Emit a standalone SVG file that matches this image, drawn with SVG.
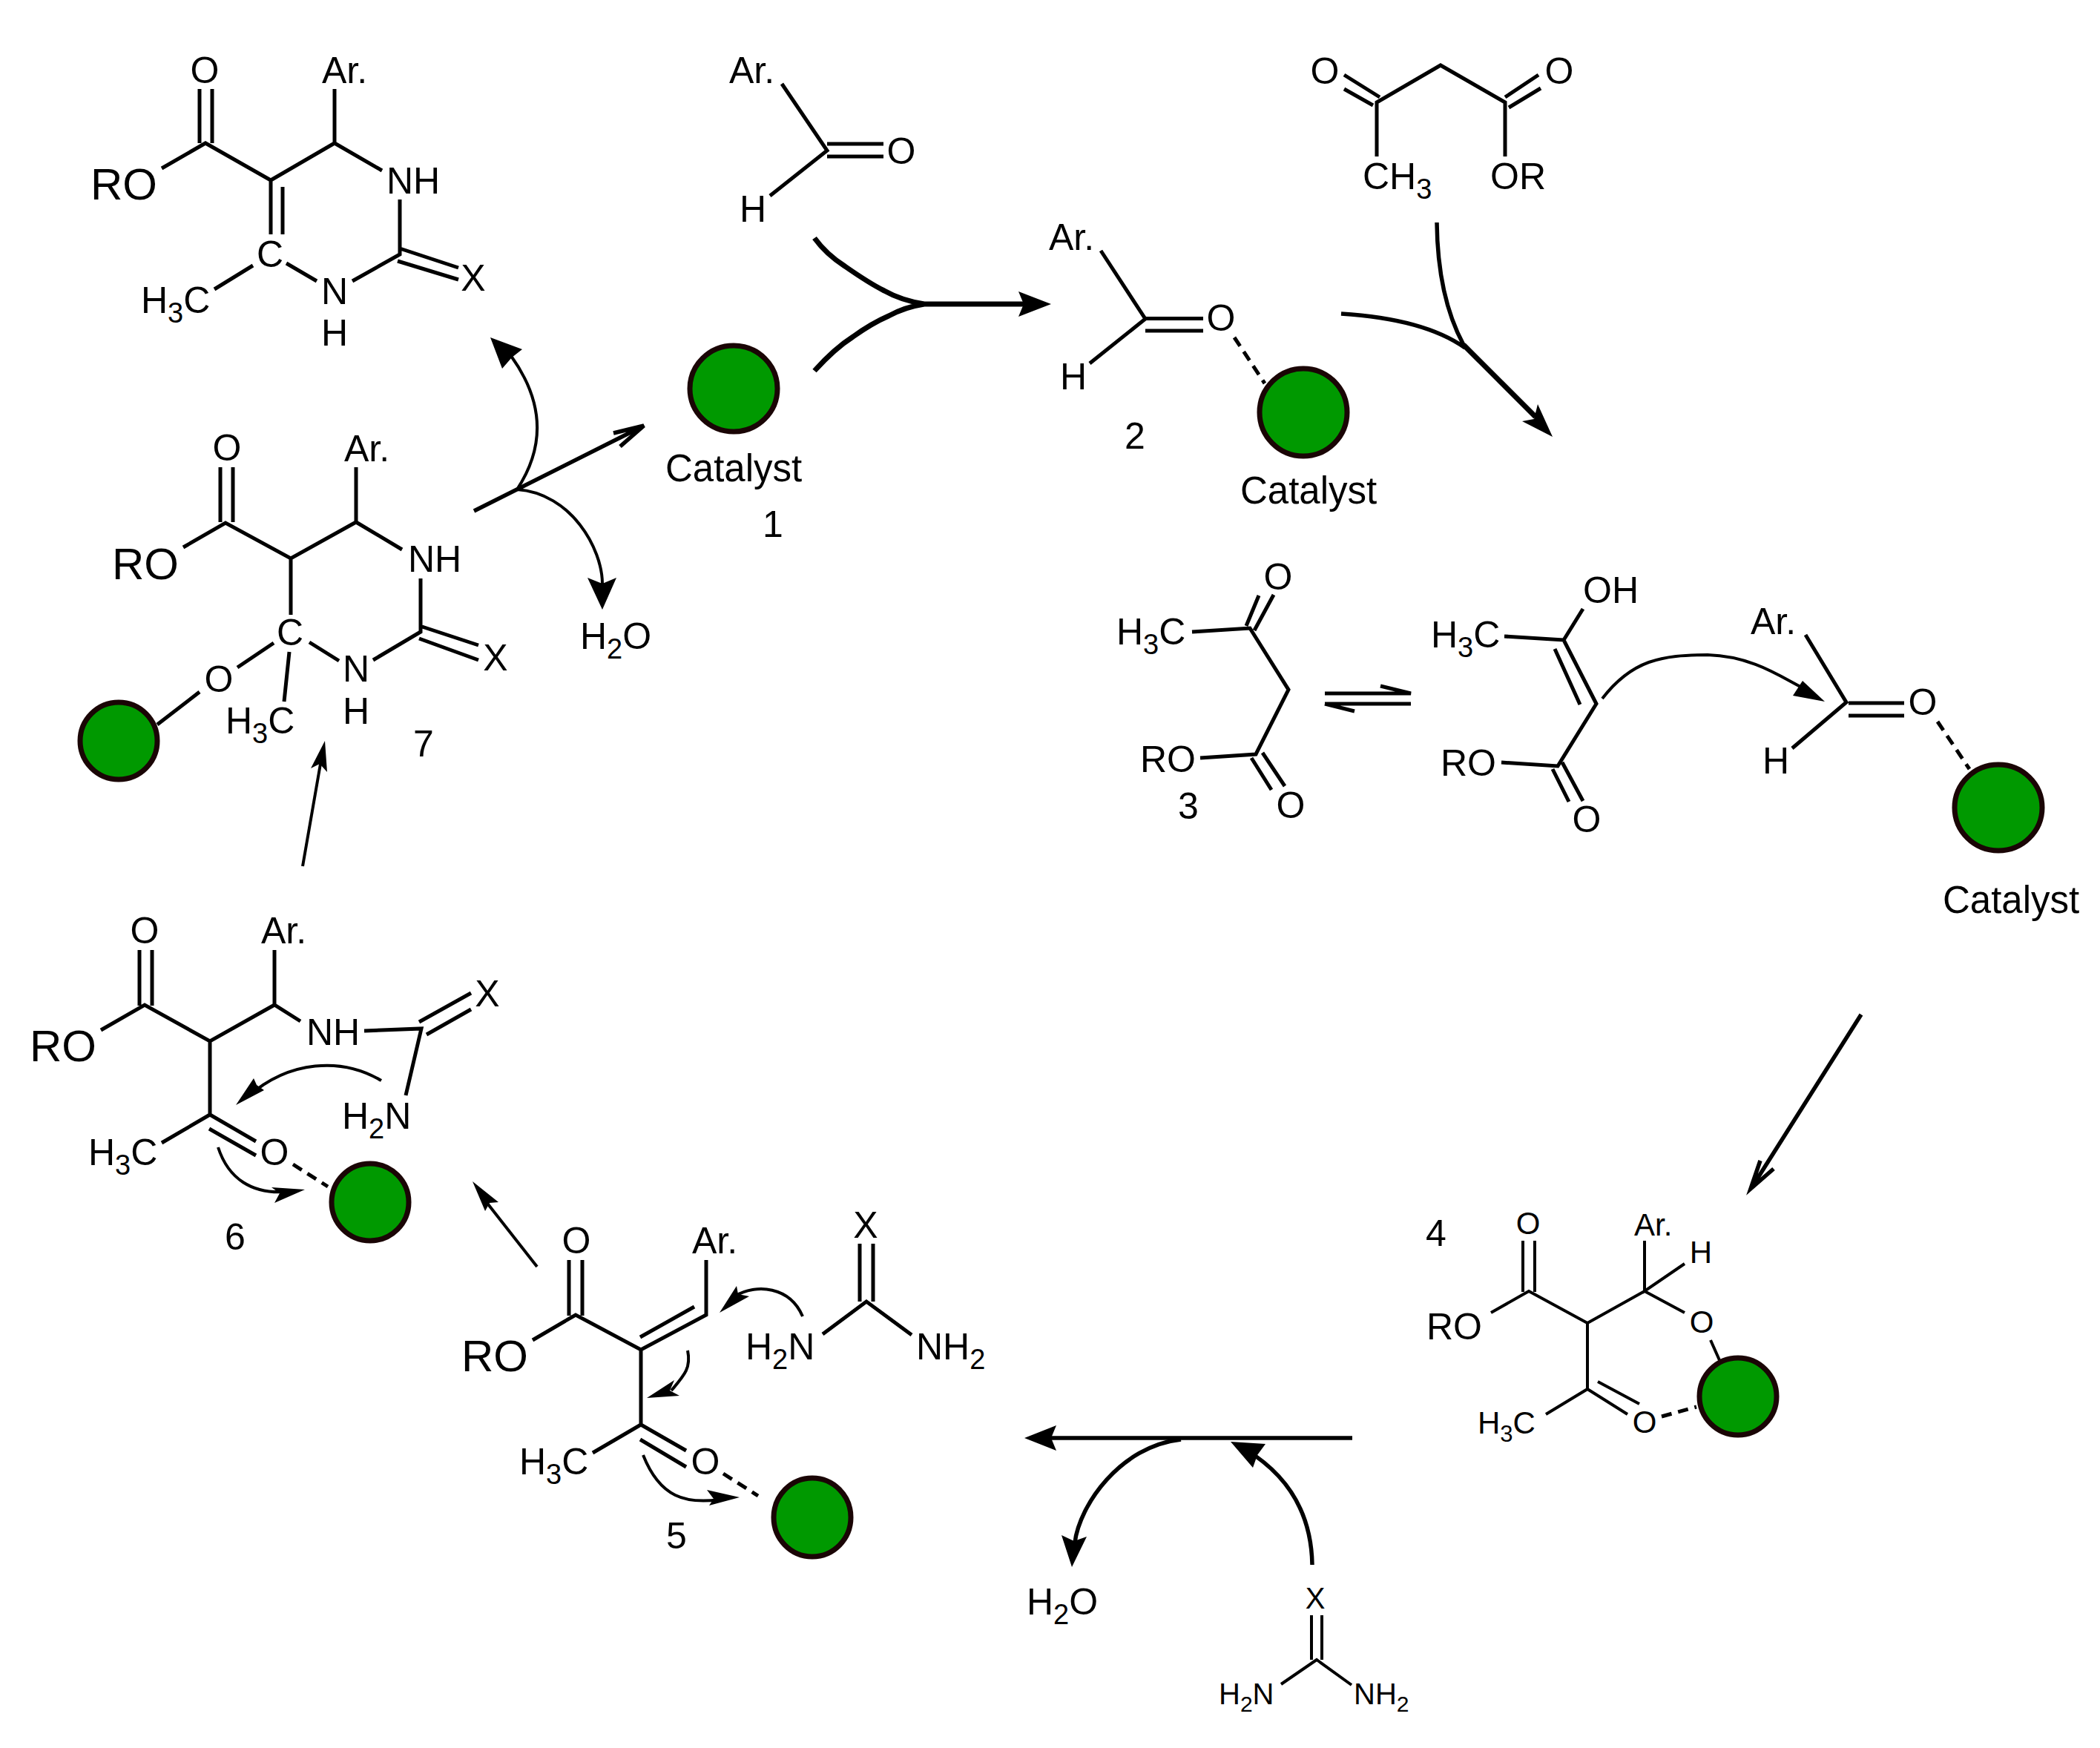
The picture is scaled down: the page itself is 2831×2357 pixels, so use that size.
<svg xmlns="http://www.w3.org/2000/svg" width="2831" height="2357" viewBox="0 0 2831 2357">
<style>
text{font-family:"Liberation Sans",Arial,sans-serif;font-size:50px;fill:#000}
.c{text-anchor:middle}
.b{font-size:60px}
.m{font-size:42px}
.u{font-size:40px}
.k{font-size:51px}
.s{font-size:38px}
.bd{fill:none;stroke:#000;stroke-width:5}
.t{fill:none;stroke:#000;stroke-width:4}
.ds{fill:none;stroke:#000;stroke-width:5;stroke-dasharray:14 9}
.ar{fill:none;stroke:#000;stroke-width:5.500}
.th{fill:none;stroke:#000;stroke-width:7}
.h{fill:#000;stroke:none}
.cat{fill:#009900;stroke:#1a0505;stroke-width:7}
</style>
<rect width="2831" height="2357" fill="#fff"/>

<g id="product">
<path class="bd" d="M269 120V193M286 120V193M218 227L277 193L365 243L451 193L515 230M451 120V193M539 269V343L475 379M539 335L618 361M536 352L618 377M427 379L386 355M365 243V316M381 252V316M341 358L289 390"/>
<text class="c" x="276" y="112">O</text>
<text x="434" y="112">Ar.</text>
<text class="b" x="122" y="269">RO</text>
<text x="521" y="261">NH</text>
<text class="c" x="638" y="392">X</text>
<text class="c" x="451" y="410">N</text>
<text class="c" x="451" y="466">H</text>
<text class="c" x="364" y="360">C</text>
<text x="190" y="422">H<tspan class="s" dy="13">3</tspan><tspan dy="-13">C</tspan></text>
</g>

<g id="aldehyde">
<path class="bd" d="M1054 113L1115 203L1038 264M1115 194H1191M1115 211H1191"/>
<text x="983" y="112">Ar.</text>
<text class="c" x="1215" y="221">O</text>
<text class="c" x="1015" y="299">H</text>
</g>

<g id="catalyst-1">
<ellipse class="cat" cx="989" cy="524" rx="59" ry="58"/>
<text class="k" x="897" y="649">Catalyst</text>
<text class="c" x="1042" y="724">1</text>
</g>

<g id="compound-2">
<path class="bd" d="M1484 338L1544 430L1469 490M1544 429.500H1622M1544 446H1622"/>
<path class="ds" d="M1664 455L1705 517"/>
<ellipse class="cat" cx="1757" cy="556" rx="59" ry="59"/>
<text x="1414" y="337">Ar.</text>
<text class="c" x="1646" y="446">O</text>
<text x="1429" y="525">H</text>
<text class="c" x="1530" y="605">2</text>
<text class="k" x="1672" y="679">Catalyst</text>
</g>

<g id="acetoacetate">
<path class="bd" d="M1812 101L1860 131M1812 120L1851 142M1856 211V138L1942 88L2029 138V211M2029 131L2074 101M2034 145L2077 119"/>
<text class="c" x="1786" y="113">O</text>
<text class="c" x="2102" y="113">O</text>
<text x="1837" y="255">CH<tspan class="s" dy="13">3</tspan></text>
<text x="2009" y="255">OR</text>
</g>

<g id="compound-3">
<path class="bd" d="M1680 844L1697 803M1691 850L1717 802M1607 852L1685 847L1737 930L1693 1017L1618 1022M1687 1022L1714 1065M1702 1015L1732 1060"/>
<text class="c" x="1723" y="795">O</text>
<text x="1505" y="869">H<tspan class="s" dy="13">3</tspan><tspan dy="-13">C</tspan></text>
<text x="1537" y="1041">RO</text>
<text class="c" x="1740" y="1103">O</text>
<text class="c" x="1602" y="1104">3</text>
</g>

<g id="enol">
<path class="bd" d="M2028 858L2108 863L2134 821M2108 863L2152 949L2100 1033L2024 1028M2096 875L2130 950M2093 1037L2115 1081M2106 1028L2134 1080"/>
<text x="1929" y="873">H<tspan class="s" dy="13">3</tspan><tspan dy="-13">C</tspan></text>
<text x="2134" y="813">OH</text>
<text x="1942" y="1046">RO</text>
<text class="c" x="2139" y="1122">O</text>
</g>

<g id="activated-aldehyde">
<path class="bd" d="M2434 856L2489 947L2416 1009M2492 948H2567M2492 965H2567"/>
<path class="ds" d="M2612 973L2655 1037"/>
<ellipse class="cat" cx="2694" cy="1089" rx="59" ry="58"/>
<text x="2360" y="855">Ar.</text>
<text class="c" x="2592" y="964">O</text>
<text class="c" x="2394" y="1043">H</text>
<text class="k" x="2619" y="1231">Catalyst</text>
</g>

<g id="compound-4">
<path class="t" d="M2053 1673V1742M2069 1673V1742M2010 1770L2061 1741L2140 1784L2217 1741L2271 1770M2217 1673V1741L2271 1704M2306 1807L2318 1834M2140 1784V1873L2084 1907M2140 1873L2194 1907M2154 1863L2210 1893"/>
<path class="ds" d="M2240 1910L2287 1897"/>
<ellipse class="cat" cx="2343" cy="1883" rx="52" ry="52"/>
<text class="c" x="1936" y="1680">4</text>
<text class="m c" x="2060" y="1664">O</text>
<text x="1923" y="1806" font-size="52">RO</text>
<text class="m" x="2203" y="1666">Ar.</text>
<text class="m c" x="2293" y="1703">H</text>
<text class="m c" x="2294" y="1797">O</text>
<text class="m" x="1992" y="1933">H<tspan font-size="31" dy="11">3</tspan><tspan dy="-11">C</tspan></text>
<text class="m c" x="2217" y="1932">O</text>
</g>

<g id="urea-reagent">
<path class="t" d="M1768 2178V2238M1782 2178V2238M1727 2271L1775 2238L1822 2272"/>
<text class="u c" x="1773" y="2169">X</text>
<text class="u" x="1643" y="2298">H<tspan font-size="30" dy="10">2</tspan><tspan dy="-10">N</tspan></text>
<text class="u" x="1825" y="2298">NH<tspan font-size="30" dy="10">2</tspan></text>
</g>

<g id="water-1">
<text x="1384" y="2177">H<tspan class="s" dy="13">2</tspan><tspan dy="-13">O</tspan></text>
</g>

<g id="compound-5">
<path class="bd" d="M767 1699V1774M785 1699V1774M718 1807L776 1773L864 1820L952 1773V1699M863 1803L936 1762M864 1820V1921L799 1959M864 1921L925 1956M863 1941L925 1978"/>
<path class="ds" d="M975 1987L1022 2017"/>
<ellipse class="cat" cx="1095" cy="2046" rx="52" ry="53"/>
<text class="c" x="777" y="1690">O</text>
<text class="b" x="622" y="1849">RO</text>
<text x="933" y="1690">Ar.</text>
<text x="700" y="1988">H<tspan class="s" dy="13">3</tspan><tspan dy="-13">C</tspan></text>
<text class="c" x="951" y="1988">O</text>
<text class="c" x="912" y="2088">5</text>
</g>

<g id="urea-5">
<path class="bd" d="M1159 1677V1755M1177 1677V1755M1109 1799L1168 1755L1229 1800"/>
<text class="c" x="1167" y="1669">X</text>
<text x="1005" y="1833">H<tspan class="s" dy="13">2</tspan><tspan dy="-13">N</tspan></text>
<text x="1235" y="1833">NH<tspan class="s" dy="13">2</tspan></text>
</g>

<g id="compound-6">
<path class="bd" d="M188 1281V1356M205 1281V1356M136 1389L195 1355L283 1404L370 1355L405 1377M370 1281V1355M491 1390L568 1387L547 1477M565 1378L635 1339M575 1395L635 1361M283 1404V1503L218 1541M283 1503L345 1539M282 1522L345 1558"/>
<path class="ds" d="M395 1570L442 1600"/>
<ellipse class="cat" cx="499" cy="1621" rx="52" ry="52"/>
<text class="c" x="195" y="1272">O</text>
<text class="b" x="40" y="1431">RO</text>
<text x="352" y="1272">Ar.</text>
<text x="413" y="1409">NH</text>
<text class="c" x="657" y="1357">X</text>
<text x="461" y="1522">H<tspan class="s" dy="13">2</tspan><tspan dy="-13">N</tspan></text>
<text x="119" y="1571">H<tspan class="s" dy="13">3</tspan><tspan dy="-13">C</tspan></text>
<text class="c" x="370" y="1571">O</text>
<text class="c" x="317" y="1685">6</text>
</g>

<g id="compound-7">
<path class="bd" d="M297 630V704M314 630V704M247 738L304 705L392 753L480 704L542 741M480 630V704M567 780V852L503 890M569 845L645 870M565 861L645 890M417 866L457 891M392 753V829M320 900L369 867M269 933L212 977M390 879L383 946"/>
<ellipse class="cat" cx="160" cy="999" rx="52" ry="52"/>
<text class="c" x="306" y="621">O</text>
<text x="464" y="622">Ar.</text>
<text class="b" x="151" y="781">RO</text>
<text x="550" y="771">NH</text>
<text class="c" x="668" y="904">X</text>
<text class="c" x="480" y="919">N</text>
<text class="c" x="480" y="976">H</text>
<text class="c" x="391" y="870">C</text>
<text class="c" x="295" y="933">O</text>
<text x="304" y="989">H<tspan class="s" dy="13">3</tspan><tspan dy="-13">C</tspan></text>
<text class="c" x="571" y="1020">7</text>
</g>

<g id="water-2">
<text x="782" y="875">H<tspan class="s" dy="13">2</tspan><tspan dy="-13">O</tspan></text>
</g>

<g id="connectors">
<path class="th" d="M1098 321Q1114 343 1139 359Q1172 382 1192 392Q1215 405 1246 410M1098 500Q1125 470 1150 454Q1175 436 1198 426Q1220 414 1246 410H1385"/>
<polygon class="h" points="1417,410 1373,393 1380,410 1373,427"/>
<path class="ar" d="M1937 300Q1938 400 1973 465M1808 423Q1920 430 1975 469"/>
<path class="th" d="M1973 465L2070 562"/>
<polygon class="h" points="2093,589 2073,545 2068,565 2052,568"/>
<path class="bd" d="M1786 935H1902L1861 925M1786 949H1902M1786 949L1826 959"/>
<path class="t" d="M2160 942C2200 890 2240 883 2302 883C2370 885 2410 920 2440 932"/>
<polygon class="h" points="2460,946 2430,918 2417,938"/>
<path class="ar" d="M2509 1368L2361 1602M2373 1565L2360 1603L2391 1576"/>
<path class="ar" d="M1823 1939H1400"/>
<polygon class="h" points="1381,1939 1424,1922 1417,1939 1424,1956"/>
<path class="ar" d="M1592 1941C1510 1950 1455 2030 1449 2080"/>
<polygon class="h" points="1445,2113 1431,2070 1448,2078 1465,2072"/>
<path class="ar" d="M1769 2110C1768 2050 1745 1995 1680 1955"/>
<polygon class="h" points="1659,1944 1706,1947 1695,1962 1689,1979"/>
<path class="t" d="M927 1821C932 1845 922 1855 905 1875"/>
<polygon class="h" points="872,1885 909,1861 903,1875 916,1882"/>
<path class="t" d="M1082 1775C1065 1735 1020 1730 990 1748"/>
<polygon class="h" points="970,1770 993,1734 995,1745 1010,1748"/>
<path class="t" d="M867 1962C890 2020 925 2028 970 2022"/>
<polygon class="h" points="997,2019 953,2009 962,2021 956,2030"/>
<path class="t" d="M724 1708L655 1620"/>
<polygon class="h" points="637,1593 654,1633 660,1622 672,1621"/>
<path class="t" d="M514 1457C460 1425 390 1430 335 1478"/>
<polygon class="h" points="318,1490 342,1454 346,1463 356,1470"/>
<path class="t" d="M294 1547C308 1590 340 1610 385 1607"/>
<polygon class="h" points="411,1604 366,1601 377,1609 370,1622"/>
<path class="t" d="M408 1168L432 1030"/>
<polygon class="h" points="438,999 419,1036 431,1030 441,1041"/>
<path class="ar" d="M639 689L868 574M827 584L868 574L836 602"/>
<path class="t" d="M697 660Q755 572 689 480"/>
<polygon class="h" points="661,455 704,471 690,482 677,497"/>
<path class="t" d="M697 660C770 665 812 740 812 787"/>
<polygon class="h" points="812,822 792,779 812,787 831,779"/>
</g>
</svg>
